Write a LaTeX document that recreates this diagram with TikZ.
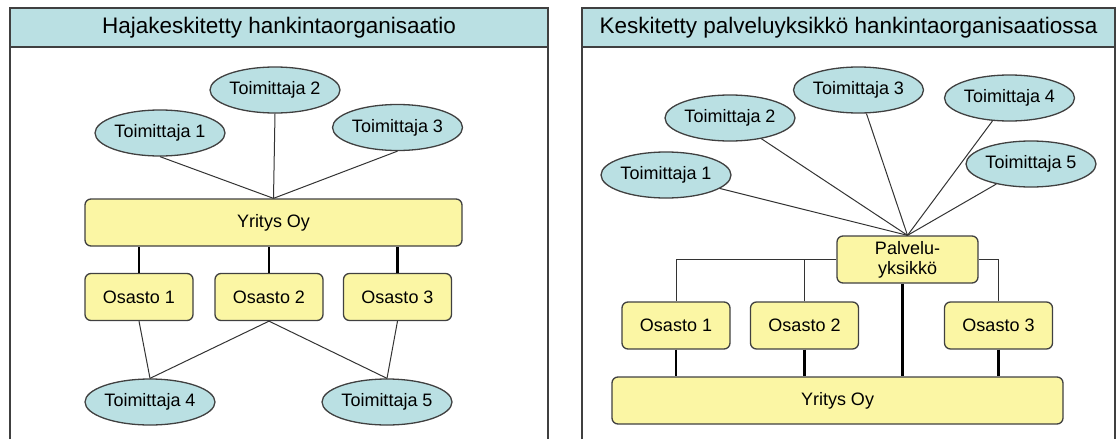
\documentclass[tikz,border=0pt]{standalone}
\usepackage{fontspec}
\setmainfont{Liberation Sans}
\usetikzlibrary{shapes,positioning}

\definecolor{headblue}{RGB}{186,224,227}
\definecolor{boxyellow}{RGB}{251,246,164}
\definecolor{edgegray}{RGB}{64,64,64}

\begin{document}
\begin{tikzpicture}[x=1pt,y=-1pt,
	sup node/.style={ellipse,draw=edgegray,fill=headblue,line width=1.3pt,
		minimum width=130pt,minimum height=46pt,inner sep=0pt,font=\fontsize{18}{20}\selectfont},
	unit node/.style={rectangle,rounded corners=6pt,draw=edgegray,fill=boxyellow,line width=1.3pt,
		minimum height=47pt,inner sep=0pt,align=center,font=\fontsize{18}{20}\selectfont},
	title node/.style={rectangle,draw=edgegray,fill=headblue,line width=1.2pt,
		minimum height=39pt,inner sep=0pt,font=\fontsize{22.5}{24}\selectfont},
	frame/.style={draw=edgegray,line width=1.2pt},
	link/.style={draw=black!80,line width=1pt},
	trunk/.style={draw=black,line width=2.4pt}]
	\useasboundingbox (0,0) rectangle (1116,439);

	% left panel
	\draw[frame] (10,439) -- (10,8) -- (548,8) -- (548,439);
	\node[title node,minimum width=538pt] (lhead) at (279,27.5) {Hajakeskitetty hankintaorganisaatio};

	\node[unit node,minimum width=377pt] (ly) at (273.5,222.5) {Yritys Oy};
	\node[unit node,minimum width=108pt] (lo1) at (139,297) {Osasto 1};
	\node[unit node,minimum width=108pt] (lo2) at (269,297) {Osasto 2};
	\node[unit node,minimum width=108pt] (lo3) at (397.5,297) {Osasto 3};
	\node[sup node] (lt1) at (160,133) {Toimittaja 1};
	\node[sup node] (lt2) at (275,90) {Toimittaja 2};
	\node[sup node] (lt3) at (397.5,127.5) {Toimittaja 3};
	\node[sup node] (lt4) at (150,402) {Toimittaja 4};
	\node[sup node] (lt5) at (387,402) {Toimittaja 5};

	\path[link]
	(lt1.south) edge (ly.north)
	(lt2.south) edge (ly.north)
	(lt3.south) edge (ly.north)
	(lo1.south) edge (lt4.north)
	(lo2.south) edge (lt4.north)
	(lo2.south) edge (lt5.north)
	(lo3.south) edge (lt5.north);
	\foreach \o in {lo1,lo2,lo3}
		\draw[trunk] (\o.north) -- (\o.north |- ly.south);

	% right panel
	\draw[frame] (582,439) -- (582,8) -- (1115,8) -- (1115,439);
	\node[title node,minimum width=533pt] (rhead) at (848.5,27.5) {Keskitetty palveluyksikkö hankintaorganisaatiossa};

	\node[unit node,minimum width=141pt] (rp) at (907.5,259.5) {Palvelu-\\yksikkö};
	\node[unit node,minimum width=108pt] (ro1) at (676,325.5) {Osasto 1};
	\node[unit node,minimum width=108pt] (ro2) at (804.5,325.5) {Osasto 2};
	\node[unit node,minimum width=108pt] (ro3) at (998.5,325.5) {Osasto 3};
	\node[unit node,minimum width=451pt] (ry) at (837.5,400.5) {Yritys Oy};
	\node[sup node] (rt1) at (666,175) {Toimittaja 1};
	\node[sup node] (rt2) at (730,118) {Toimittaja 2};
	\node[sup node] (rt3) at (858.5,90) {Toimittaja 3};
	\node[sup node] (rt4) at (1009.5,98) {Toimittaja 4};
	\node[sup node] (rt5) at (1031,164) {Toimittaja 5};

	\path[link]
	(rt1) edge (rp.north)
	(rt2) edge (rp.north)
	(rt3) edge (rp.north)
	(rt4) edge (rp.north)
	(rt5) edge (rp.north);
	\draw[link] (rp.west) -| (ro1.north);
	\draw[link] (ro2.north) -- (ro2.north |- rp.west);
	\draw[link] (rp.east) -| (ro3.north);
	\foreach \o in {ro1,ro2,ro3}
		\draw[trunk] (\o.south) -- (\o.south |- ry.north);
	\draw[trunk] ([xshift=-5pt]rp.south) -- ([xshift=-5pt]rp.south |- ry.north);
\end{tikzpicture}
\end{document}
